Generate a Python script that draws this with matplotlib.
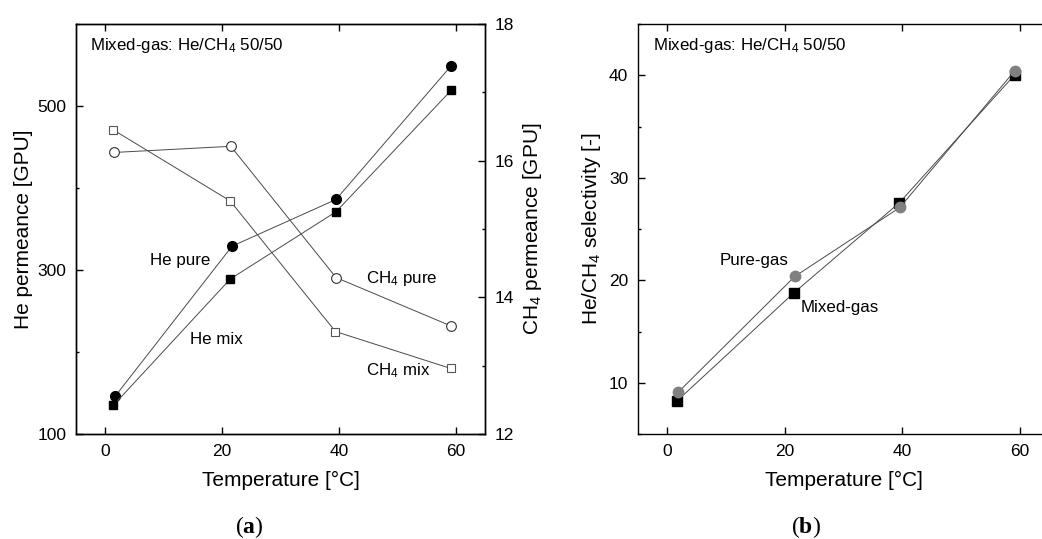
import matplotlib
matplotlib.use("Agg")
import matplotlib.pyplot as plt
from matplotlib.ticker import MultipleLocator, FixedLocator

plt.rcParams["font.family"] = ["Liberation Sans", "DejaVu Sans"]
plt.rcParams["mathtext.fontset"] = "custom"
plt.rcParams["mathtext.rm"] = "Liberation Sans"
plt.rcParams["mathtext.it"] = "Liberation Sans:italic"
plt.rcParams["mathtext.bf"] = "Liberation Serif:bold"

# Panel (a): permeance vs temperature
temp_he_pure = [1.7, 21.7, 39.5, 59.2]
he_pure = [146, 329, 386, 549]
temp_he_mix = [1.4, 21.4, 39.5, 59.2]
he_mix = [135, 289, 371, 519]
temp_ch4_pure = [1.5, 21.5, 39.5, 59.2]
ch4_pure = [16.12, 16.21, 14.29, 13.58]
temp_ch4_mix = [1.4, 21.4, 39.4, 59.1]
ch4_mix = [16.45, 15.41, 13.50, 12.96]

# Panel (b): selectivity vs temperature
temp_sel_pure = [1.8, 21.7, 39.6, 59.2]
sel_pure = [9.05, 20.37, 27.1, 40.46]
temp_sel_mix = [1.6, 21.6, 39.5, 59.2]
sel_mix = [8.2, 18.8, 27.55, 40.07]

he_major = [100, 300, 500]
he_minor = [200, 400, 600]

line_kw = dict(color="#4a4a4a", lw=0.7)


def style_axis(ax, right=False):
    ax.tick_params(direction="in", length=5, width=1, labelsize=12.5, pad=7,
                   top=True, right=right)
    ax.tick_params(which="minor", direction="in", length=2.5, width=1,
                   right=right)
    for s in ax.spines.values():
        s.set_linewidth(1.0)


fig = plt.figure(figsize=(10.42, 5.39), dpi=100)

# ---------- panel (a) ----------
ax1 = fig.add_axes([76 / 1042, 1 - 434 / 539, 409 / 1042, 410 / 539])
ax2 = ax1.twinx()

ax1.plot(temp_he_pure, he_pure, marker="o", ms=7, mfc="black", mec="black",
         **line_kw, zorder=3)
ax1.plot(temp_he_mix, he_mix, marker="s", ms=6, mfc="black", mec="black",
         **line_kw, zorder=3)
ax2.plot(temp_ch4_pure, ch4_pure, marker="o", ms=7, mfc="white", mec="#333333",
         mew=0.8, **line_kw)
ax2.plot(temp_ch4_mix, ch4_mix, marker="s", ms=6, mfc="white", mec="#555555",
         mew=0.8, **line_kw)

ax1.set_xlim(-5, 65)
ax1.set_ylim(100, 600)
ax2.set_ylim(12, 18)
ax1.xaxis.set_major_locator(MultipleLocator(20))
ax1.yaxis.set_major_locator(FixedLocator(he_major))
ax1.yaxis.set_minor_locator(FixedLocator(he_minor))
ax2.yaxis.set_major_locator(MultipleLocator(2))
ax2.yaxis.set_minor_locator(MultipleLocator(1))
style_axis(ax1)
style_axis(ax2, right=True)
ax1.tick_params(right=False)

ax1.set_xlabel("Temperature [°C]", fontsize=15, labelpad=9)
ax1.set_ylabel("He permeance [GPU]", fontsize=15)
ax1.yaxis.set_label_coords(-0.105, 0.5)
ax2.set_ylabel("CH$_4$ permeance [GPU]", fontsize=15)
ax2.yaxis.set_label_coords(1.088, 0.5)

ax1.text(0.034, 0.937, "Mixed-gas: He/CH$_4$ 50/50", transform=ax1.transAxes,
         fontsize=12.2, va="baseline")
ax1.text(7.6, 306, "He pure", fontsize=12.2, va="baseline")
ax1.text(14.5, 210, "He mix", fontsize=12.2, va="baseline")
ax1.text(44.6, 284, "CH$_4$ pure", fontsize=12.2, va="baseline")
ax1.text(44.6, 171, "CH$_4$ mix", fontsize=12.2, va="baseline")

# ---------- panel (b) ----------
ax3 = fig.add_axes([638 / 1042, 1 - 434 / 539, 411 / 1042, 410 / 539])
ax3.plot(temp_sel_mix, sel_mix, marker="s", ms=6.5, mfc="black", mec="black",
         **line_kw, zorder=2)
ax3.plot(temp_sel_pure, sel_pure, marker="o", ms=7.5, mfc="#808080",
         mec="#808080", **line_kw, zorder=3)
ax3.set_xlim(-5, 65)
ax3.set_ylim(5, 45)
ax3.xaxis.set_major_locator(MultipleLocator(20))
ax3.yaxis.set_major_locator(MultipleLocator(10))
ax3.yaxis.set_minor_locator(MultipleLocator(5))
style_axis(ax3, right=True)

ax3.set_xlabel("Temperature [°C]", fontsize=15, labelpad=9)
ax3.set_ylabel("He/CH$_4$ selectivity [-]", fontsize=15)
ax3.yaxis.set_label_coords(-0.085, 0.5)

ax3.text(0.0365, 0.937, "Mixed-gas: He/CH$_4$ 50/50", transform=ax3.transAxes,
         fontsize=12.2, va="baseline")
ax3.text(8.9, 21.5, "Pure-gas", fontsize=12.2, va="baseline")
ax3.text(22.7, 16.9, "Mixed-gas", fontsize=12.2, va="baseline")

# panel captions
fig.text(249 / 1042, 1 - 527 / 539, r"($\mathbf{a}$)", fontsize=17,
         family="Liberation Serif", ha="center", va="center")
fig.text(806 / 1042, 1 - 527 / 539, r"($\mathbf{b}$)", fontsize=17,
         family="Liberation Serif", ha="center", va="center")

fig.savefig("out.png", dpi=100)
